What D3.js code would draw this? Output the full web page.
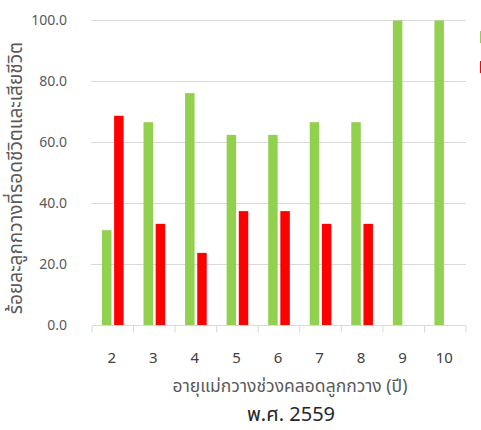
<!DOCTYPE html>
<html>
<head>
<meta charset="utf-8">
<script src="https://cdn.jsdelivr.net/npm/d3@7"></script>
<style>
  html, body { margin: 0; padding: 0; background: #fff; }
  svg { display: block; font-family: Tahoma, "Noto Sans Thai", "Noto Sans", sans-serif; }
</style>
</head>
<body>
<svg id="chart" width="481" height="430"></svg>
<script>
// Mother's age at calving (years)
const categories = ["2", "3", "4", "5", "6", "7", "8", "9", "10"];
// Percentage of fawns surviving / dying
const survived = [31.25, 66.67, 76.19, 62.5, 62.5, 66.67, 66.67, 100, 100];
const died = [68.75, 33.33, 23.81, 37.5, 37.5, 33.33, 33.33, 0, 0];
const yTicks = [0, 20, 40, 60, 80, 100];
const seriesKeys = ["survived", "died"];
const seriesColors = ["#92d050", "#ff0000"];

const yTitle = "ร้อยละลูกกวางที่รอดชีวิตและเสียชีวิต";
const xTitle = "อายุแม่กวางช่วงคลอดลูกกวาง (ปี)";
const chartTitle = "พ.ศ. 2559";

const svg = d3.select("#chart");
const plotLeft = 92, plotRight = 466, plotTop = 20.5, plotBottom = 325.5;

const x = d3.scaleBand().domain(categories).range([plotLeft, plotRight]).padding(0);
const xi = d3.scaleBand().domain(seriesKeys).range([0, x.bandwidth()])
  .paddingInner(0.22).paddingOuter(0.82);
const y = d3.scaleLinear().domain([0, 100]).range([plotBottom, plotTop]);

// Horizontal gridlines
svg.append("g").selectAll("line").data(yTicks.filter(d => d > 0)).join("line")
  .attr("x1", plotLeft - 1).attr("x2", plotRight)
  .attr("y1", d => y(d)).attr("y2", d => y(d))
  .attr("stroke", "#d9d9d9").attr("stroke-width", 1);

// Y tick labels
svg.append("g").selectAll("text").data(yTicks).join("text")
  .attr("x", 67).attr("y", d => y(d))
  .attr("text-anchor", "end").attr("dominant-baseline", "central")
  .attr("fill", "#595959").style("font-size", "14px")
  .text(d => d.toFixed(1));

// Bars
const rows = categories.map((c, i) => ({ c, survived: survived[i], died: died[i] }));
const groups = svg.append("g").selectAll("g").data(rows).join("g")
  .attr("transform", d => `translate(${x(d.c)},0)`);
groups.selectAll("rect")
  .data(d => seriesKeys.map((k, j) => ({ k, v: d[k], color: seriesColors[j] })))
  .join("rect")
  .attr("x", d => xi(d.k))
  .attr("width", xi.bandwidth())
  .attr("y", d => y(d.v))
  .attr("height", d => y(0) - y(d.v))
  .attr("fill", d => d.color);

// X axis baseline with category boundary ticks
const xAxis = svg.append("g");
xAxis.append("line")
  .attr("x1", plotLeft).attr("x2", plotRight).attr("y1", plotBottom).attr("y2", plotBottom)
  .attr("stroke", "#d9d9d9").attr("stroke-width", 1);
const bounds = categories.map(c => x(c)).concat([plotRight]);
xAxis.selectAll("line.tick").data(bounds).join("line").attr("class", "tick")
  .attr("x1", d => d).attr("x2", d => d)
  .attr("y1", plotBottom).attr("y2", plotBottom + 7)
  .attr("stroke", "#d9d9d9").attr("stroke-width", 1);

// X tick labels
svg.append("g").selectAll("text").data(categories).join("text")
  .attr("x", d => x(d) + x.bandwidth() / 2 - 1)
  .attr("y", 358)
  .attr("text-anchor", "middle").attr("dominant-baseline", "central")
  .attr("fill", "#404040").style("font-size", "15px")
  .text(d => d);

// Axis titles
svg.append("text")
  .attr("transform", `translate(16,${(plotTop + plotBottom) / 2 + 5}) rotate(-90)`)
  .attr("text-anchor", "middle").attr("dominant-baseline", "central")
  .attr("fill", "#595959").style("font-size", "19px")
  .text(yTitle);

svg.append("text")
  .attr("x", 290).attr("y", 386)
  .attr("text-anchor", "middle").attr("dominant-baseline", "central")
  .attr("fill", "#595959").style("font-size", "17.5px")
  .text(xTitle);

svg.append("text")
  .attr("x", 291).attr("y", 415)
  .attr("text-anchor", "middle").attr("dominant-baseline", "central")
  .attr("fill", "#262626").style("font-size", "20px")
  .text(chartTitle);

// Legend swatches (at the right edge)
svg.append("g").selectAll("rect").data(seriesColors).join("rect")
  .attr("x", 480).attr("y", (d, i) => 31 + i * 30)
  .attr("width", 12).attr("height", 12)
  .attr("fill", d => d);
</script>
</body>
</html>
